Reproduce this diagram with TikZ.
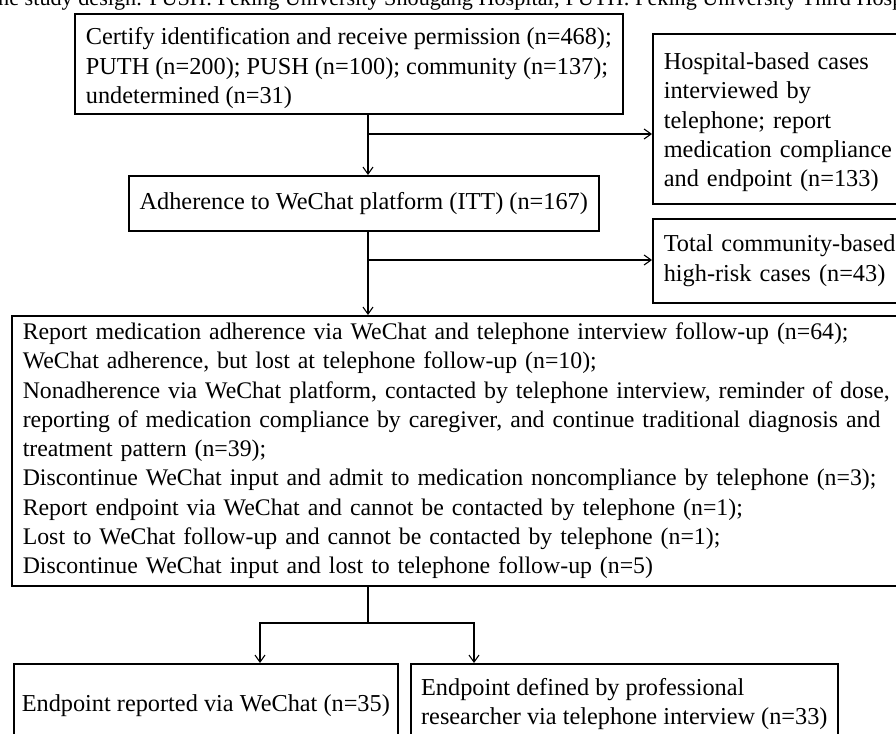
\documentclass[tikz,border=0pt]{standalone}
\usepackage{fontspec}
\setmainfont{Liberation Serif}
\usetikzlibrary{arrows.meta}
\begin{document}
\begin{tikzpicture}[x=1pt,y=-1pt,
  box/.style={draw, line width=1.6pt, rectangle, anchor=north west, inner ysep=0pt,
    font=\fontsize{24.3}{29.3}\selectfont},
  arr/.style={line width=1.1pt, -{Straight Barb[length=7pt,width=10pt,line width=1.1pt]}},
  ln/.style={line width=1.1pt}]
\useasboundingbox (0,0) rectangle (896,733);
\clip (0,0) rectangle (896,733);
\node[anchor=base west, inner sep=0pt, font=\fontsize{22.2}{29.3}\selectfont] (cap) at (-2,6)
  {he study design. PUSH: Peking University Shougang Hospital; PUTH: Peking University Third Hosp};
\node[box, minimum width=548, minimum height=100, align=left, inner xsep=10pt] (b1) at (74,13)
  {\rule{0pt}{26pt}Certify identification and receive permission (n=468);\\PUTH (n=200); PUSH (n=100); community (n=137);\\undetermined (n=31)};
\node[box, minimum height=170, text width=300, align=left, inner xsep=11pt] (hosp) at (652,33)
  {\rule{0pt}{24pt}Hospital-based cases\\interviewed by\\telephone; report\\medication compliance\\and endpoint (n=133)};
\node[box, minimum width=470, minimum height=55, align=center, inner xsep=8pt] (adh) at (128,175)
  {Adherence to WeChat platform (ITT) (n=167)};
\node[box, minimum height=84, text width=300, align=left, inner xsep=11pt] (comm) at (652,218)
  {Total community-based\\high-risk cases (n=43)};
\node[box, minimum height=270, text width=920, align=left, inner xsep=11pt,
  font=\fontsize{23.8}{29.3}\selectfont] (big) at (11,315)
  {Report medication adherence via WeChat and telephone interview follow-up (n=64);\\
   WeChat adherence, but lost at telephone follow-up (n=10);\\
   Nonadherence via WeChat platform, contacted by telephone interview, reminder of dose,\\
   reporting of medication compliance by caregiver, and continue traditional diagnosis and\\
   treatment pattern (n=39);\\
   Discontinue WeChat input and admit to medication noncompliance by telephone (n=3);\\
   Report endpoint via WeChat and cannot be contacted by telephone (n=1);\\
   Lost to WeChat follow-up and cannot be contacted by telephone (n=1);\\
   Discontinue WeChat input and lost to telephone follow-up (n=5)};
\node[box, minimum width=384, minimum height=84, align=center, inner xsep=6pt] (bl) at (13,663)
  {Endpoint reported via WeChat (n=35)};
\node[box, minimum width=427, minimum height=80, align=left, inner xsep=8pt] (br) at (410,663)
  {Endpoint defined by professional\\researcher via telephone interview (n=33)};
\coordinate (t) at (368,0);
\coordinate (j1) at (368,134);
\coordinate (j2) at (368,260);
\coordinate (j3) at (368,623);
\coordinate (xl) at (260,0);
\coordinate (xr) at (474,0);
\draw[arr] (b1.south -| t) -- (adh.north -| t);
\draw[arr] (j1) -- (hosp.west |- j1);
\draw[arr] (adh.south -| t) -- (big.north -| t);
\draw[arr] (j2) -- (comm.west |- j2);
\draw[ln] (big.south -| t) -- (j3);
\draw[arr] (j3) -| (bl.north -| xl);
\draw[arr] (j3) -| (br.north -| xr);
\end{tikzpicture}
\end{document}
